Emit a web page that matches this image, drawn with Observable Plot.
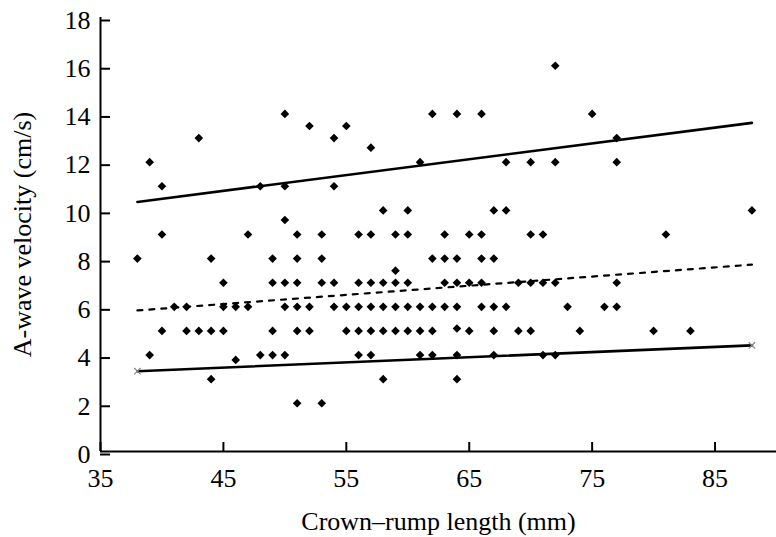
<!DOCTYPE html>
<html>
<head>
<meta charset="utf-8">
<script src="https://cdn.jsdelivr.net/npm/d3@7"></script>
<script src="https://cdn.jsdelivr.net/npm/@observablehq/plot@0.6"></script>
<style>
  html, body { margin: 0; padding: 0; background: #fff; }
</style>
</head>
<body>
<div id="chart"></div>
<script>
// Crown–rump length (mm) and A-wave velocity (cm/s) per observation
const crl = [
  72,
  50, 62, 64, 66, 75,
  52, 55,
  43, 54, 77,
  57,
  39, 61, 68, 70, 72, 77,
  40, 48, 50, 54,
  58, 60, 67, 68, 88,
  50,
  40, 47, 51, 53, 56, 57, 59, 60, 63, 65, 66, 70, 71, 81,
  38, 44, 49, 51, 53, 62, 63, 64, 66, 67,
  59,
  45, 49, 50, 51, 53, 54, 56, 57, 58, 59, 60, 63, 64, 65, 66, 69, 70, 71, 72, 77,
  41, 42, 45, 46, 47, 50, 51, 52, 54, 55, 56, 57, 58, 59, 60, 61, 62, 63, 64, 66, 67, 68, 73, 76, 77,
  64,
  40, 42, 43, 44, 45, 49, 51, 52, 55, 56, 57, 58, 59, 60, 61, 62, 65, 67, 69, 70, 74, 80, 83,
  39, 48, 49, 50, 56, 57, 61, 62, 64, 67, 71, 72,
  46,
  44, 58, 64,
  51, 53
];
const velocity = [
  16,
  14, 14, 14, 14, 14,
  13.5, 13.5,
  13, 13, 13,
  12.6,
  12, 12, 12, 12, 12, 12,
  11, 11, 11, 11,
  10, 10, 10, 10, 10,
  9.6,
  9, 9, 9, 9, 9, 9, 9, 9, 9, 9, 9, 9, 9, 9,
  8, 8, 8, 8, 8, 8, 8, 8, 8, 8,
  7.5,
  7, 7, 7, 7, 7, 7, 7, 7, 7, 7, 7, 7, 7, 7, 7, 7, 7, 7, 7, 7,
  6, 6, 6, 6, 6, 6, 6, 6, 6, 6, 6, 6, 6, 6, 6, 6, 6, 6, 6, 6, 6, 6, 6, 6, 6,
  5.1,
  5, 5, 5, 5, 5, 5, 5, 5, 5, 5, 5, 5, 5, 5, 5, 5, 5, 5, 5, 5, 5, 5, 5,
  4, 4, 4, 4, 4, 4, 4, 4, 4, 4, 4, 4,
  3.8,
  3, 3, 3,
  2, 2
];

// Fitted lines (endpoints)
const fitX = [38, 88];
const upperY = [10.35, 13.63];
const meanY = [5.85, 7.75];
const lowerY = [3.33, 4.4];

const xTicks = [35, 45, 55, 65, 75, 85];
const yTicks = [0, 2, 4, 6, 8, 10, 12, 14, 16, 18];

const xTitle = "Crown–rump length (mm)";
const yTitle = "A-wave velocity (cm/s)";

const points = crl.map((x, i) => ({x, y: velocity[i]}));
const toLine = ys => fitX.map((x, i) => ({x, y: ys[i]}));

const chart = Plot.plot({
  width: 776,
  height: 537,
  marginLeft: 100,
  marginRight: 0,
  marginTop: 17,
  marginBottom: 86,
  x: {domain: [35, 90]},
  y: {domain: [0, 18]},
  style: {fontFamily: "'Liberation Serif', serif", fontSize: "26px", background: "#fff", color: "#000", overflow: "visible"},
  marks: [
    Plot.axisX(xTicks, {tickSize: -9, tickPadding: 26, strokeWidth: 2, tickFormat: d => String(d), label: null, fontSize: 26}),
    Plot.axisY(yTicks, {tickSize: -10, tickPadding: 20, strokeWidth: 2, tickFormat: d => String(d), label: null, fontSize: 26, dy: 3}),
    Plot.ruleX([35], {stroke: "#000", strokeWidth: 2}),
    Plot.ruleY([0], {stroke: "#000", strokeWidth: 2}),
    Plot.line(toLine(upperY), {x: "x", y: "y", stroke: "#000", strokeWidth: 2.6}),
    Plot.line(toLine(lowerY), {x: "x", y: "y", stroke: "#000", strokeWidth: 2.6}),
    Plot.line(toLine(meanY), {x: "x", y: "y", stroke: "#000", strokeWidth: 2.2, strokeDasharray: "5,7"}),
    Plot.dot(toLine(lowerY), {x: "x", y: "y", symbol: "times", stroke: "#888", r: 3, strokeWidth: 1.2}),
    Plot.dot(points, {x: "x", y: "y", symbol: "diamond2", fill: "#000", r: 3.9}),
    Plot.text([xTitle], {frameAnchor: "bottom", lineAnchor: "middle", textAnchor: "middle", dy: 70, fontSize: 26, fill: "#000"}),
    Plot.text([yTitle], {frameAnchor: "left", textAnchor: "middle", lineAnchor: "middle", dx: -78, rotate: -90, fontSize: 26, fill: "#000"})
  ]
});
document.getElementById("chart").appendChild(chart);
</script>
</body>
</html>
